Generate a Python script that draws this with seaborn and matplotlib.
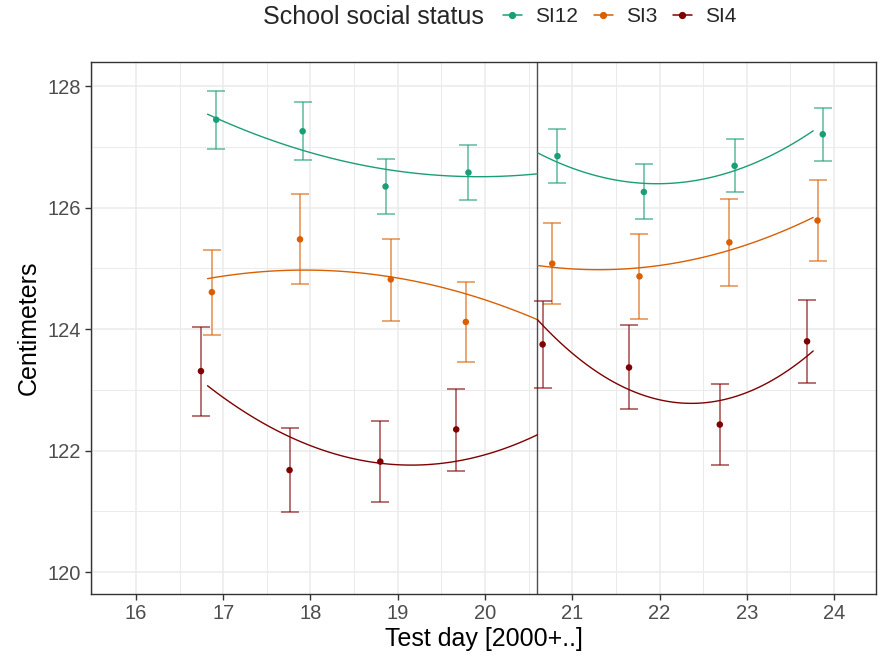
import numpy as np
import pandas as pd
import matplotlib
matplotlib.use("Agg")
import matplotlib.pyplot as plt
from matplotlib.lines import Line2D
from matplotlib.ticker import MultipleLocator
import seaborn as sns

sns.set_theme(style="white")
plt.rcParams['font.family'] = ['Liberation Sans', 'DejaVu Sans']

groups = ["SI12", "SI3", "SI4"]
colors = {"SI12": "#1B9E77", "SI3": "#D95F02", "SI4": "#7F0000"}

# point positions (dodged test days), means, CI bounds
si12_x = [16.92, 17.91, 18.86, 19.81, 20.83, 21.82, 22.86, 23.87]
si12_mean = [127.45, 127.26, 126.35, 126.58, 126.85, 126.26, 126.69, 127.21]
si12_low = [126.97, 126.78, 125.89, 126.13, 126.40, 125.81, 126.26, 126.77]
si12_high = [127.92, 127.74, 126.80, 127.03, 127.30, 126.72, 127.13, 127.65]

si3_x = [16.87, 17.88, 18.92, 19.78, 20.77, 21.77, 22.80, 23.81]
si3_mean = [124.61, 125.48, 124.82, 124.12, 125.08, 124.87, 125.43, 125.79]
si3_low = [123.90, 124.74, 124.14, 123.46, 124.41, 124.16, 124.71, 125.13]
si3_high = [125.30, 126.23, 125.49, 124.78, 125.75, 125.57, 126.14, 126.45]

si4_x = [16.745, 17.76, 18.80, 19.67, 20.66, 21.65, 22.69, 23.69]
si4_mean = [123.31, 121.68, 121.82, 122.35, 123.75, 123.37, 122.43, 123.80]
si4_low = [122.57, 120.99, 121.15, 121.67, 123.04, 122.68, 121.77, 123.11]
si4_high = [124.04, 122.38, 122.49, 123.02, 124.47, 124.07, 123.10, 124.48]

# quadratic trend samples (before / after break)
si12_c1_x = [16.82, 17.93, 18.87, 19.94, 20.60]
si12_c1_y = [127.54, 126.94, 126.63, 126.51, 126.56]
si12_c2_x = [20.60, 21.96, 22.86, 23.76]
si12_c2_y = [126.91, 126.38, 126.63, 127.26]
si3_c1_x = [16.82, 17.92, 18.91, 19.78, 20.60]
si3_c1_y = [124.83, 124.98, 124.86, 124.58, 124.16]
si3_c2_x = [20.60, 21.31, 22.80, 23.76]
si3_c2_y = [125.05, 124.98, 125.30, 125.84]
si4_c1_x = [16.82, 17.76, 18.80, 19.17, 19.66, 20.60]
si4_c1_y = [123.07, 122.23, 121.79, 121.76, 121.83, 122.26]
si4_c2_x = [20.60, 21.65, 22.35, 22.69, 23.76]
si4_c2_y = [124.16, 123.00, 122.78, 122.83, 123.64]

break_day = 20.6
x_ticks = [16, 17, 18, 19, 20, 21, 22, 23, 24]
y_ticks = [120, 122, 124, 126, 128]

series = {
    "SI12": (si12_x, si12_mean, si12_low, si12_high, [(si12_c1_x, si12_c1_y), (si12_c2_x, si12_c2_y)]),
    "SI3": (si3_x, si3_mean, si3_low, si3_high, [(si3_c1_x, si3_c1_y), (si3_c2_x, si3_c2_y)]),
    "SI4": (si4_x, si4_mean, si4_low, si4_high, [(si4_c1_x, si4_c1_y), (si4_c2_x, si4_c2_y)]),
}

fig = plt.figure(figsize=(8.83, 6.56), dpi=100)
ax = fig.add_axes([91 / 883, 1 - 594 / 656, 785 / 883, 532 / 656])

grid_c = "#EBEBEB"
ax.xaxis.set_major_locator(MultipleLocator(1))
ax.xaxis.set_minor_locator(MultipleLocator(0.5))
ax.yaxis.set_major_locator(MultipleLocator(2))
ax.yaxis.set_minor_locator(MultipleLocator(1))
ax.grid(which="major", color=grid_c, linewidth=1.1)
ax.grid(which="minor", color=grid_c, linewidth=0.7)
ax.set_axisbelow(True)

ax.axvline(break_day, color="#4D4D4D", linewidth=1.0, zorder=2)

for g in groups:
    xs, m, lo, hi, curves = series[g]
    c = colors[g]
    m = np.array(m); lo = np.array(lo); hi = np.array(hi)
    ax.errorbar(xs, m, yerr=[m - lo, hi - m], fmt="none", ecolor=c, alpha=0.7,
                elinewidth=1.1, capsize=6.2, capthick=1.1, zorder=3)
    sns.scatterplot(x=xs, y=m, color=c, s=22, edgecolor="none", ax=ax, zorder=4)
    for cx, cy in curves:
        sns.regplot(x=cx, y=cy, order=2, ci=None, scatter=False, truncate=True,
                    line_kws={"color": c, "linewidth": 1.0, "zorder": 3}, ax=ax)

ax.set_xlim(15.485, 24.48)
ax.set_ylim(119.64, 128.4)
ax.set_xticks(x_ticks)
ax.set_yticks(y_ticks)
ax.set_xticklabels([str(t) for t in x_ticks])
ax.set_yticklabels([str(t) for t in y_ticks])

for s in ax.spines.values():
    s.set_visible(True)
    s.set_color("#333333")
    s.set_linewidth(1.0)
ax.tick_params(axis="both", which="major", direction="out", length=4, width=1.0,
               color="#333333", labelcolor="#4D4D4D", labelsize=14.5, pad=3,
               bottom=True, left=True)
ax.tick_params(which="minor", length=0)

ax.set_xlabel("Test day [2000+..]", fontsize=18, color="black", labelpad=3)
ax.set_ylabel("Centimeters", fontsize=18, color="black", labelpad=5)

handles = [Line2D([0], [0], color=colors[g], marker="o", markersize=4.2, linewidth=1.1,
                  alpha=1.0) for g in groups]
fig.text(263 / 883, 1 - 17 / 656, "School social status", fontsize=18,
         ha="left", va="center")
leg = fig.legend(handles, groups, loc="center left", bbox_to_anchor=(503 / 883, 1 - 17 / 656),
                 ncol=3, frameon=False, fontsize=15, handlelength=0.9,
                 handletextpad=0.65, columnspacing=0.75, borderaxespad=0, borderpad=0)

fig.savefig("out.png", dpi=100)
